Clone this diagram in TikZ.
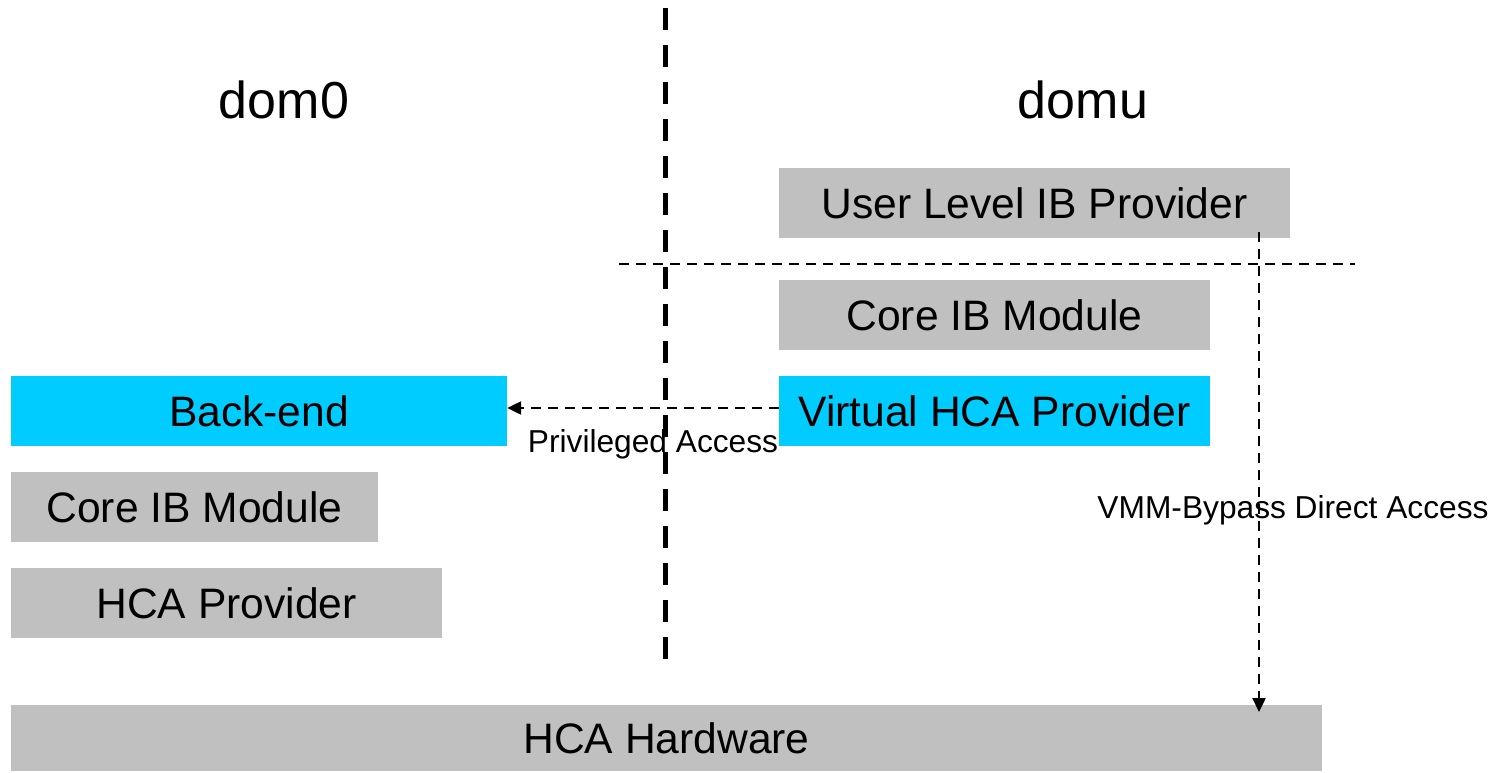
\documentclass[tikz,border=0pt]{standalone}
\usepackage{fontspec}
\setmainfont{Liberation Sans}
\usetikzlibrary{arrows.meta}
\definecolor{boxgray}{HTML}{C0C0C0}
\definecolor{boxcyan}{HTML}{00CCFF}
\tikzset{
  layer/.style={fill=boxgray, inner sep=0pt, font=\fontsize{42.6}{50}\selectfont},
  cyanlayer/.style={layer, fill=boxcyan},
  domlabel/.style={font=\fontsize{52}{60}\selectfont, inner sep=0pt},
  arrlabel/.style={font=\fontsize{31.7}{38}\selectfont, inner sep=0pt},
  conn/.style={draw, line width=2.3pt, dash pattern=on 10pt off 7pt, -{Triangle[length=14pt,width=13pt]}},
  divider/.style={draw, line width=5pt, dash pattern=on 22pt off 15pt},
  sep/.style={draw, line width=2.3pt, dash pattern=on 10pt off 7pt}
}
\begin{document}
\begin{tikzpicture}[x=1pt,y=-1pt]
\useasboundingbox (0,0) rectangle (1501,772);
% labels
\node[domlabel] (dom0) at (284,100) {dom0};
\node[domlabel] (domu) at (1083,100) {domu};
% divider lines
\coordinate (dvt) at (665,8);
\coordinate (dvb) at (665,663);
\draw[divider] (dvt) -- (dvb);
\coordinate (hsl) at (619,264);
\coordinate (hsr) at (1355,264);
\draw[sep] (hsl) -- (hsr);
% domu boxes
\node[layer, minimum width=511pt, minimum height=70pt] (ulib) at (1034.5,203) {User Level IB Provider};
\node[layer, minimum width=431pt, minimum height=70pt] (coreu) at (994.5,315) {Core IB Module};
\node[cyanlayer, minimum width=431pt, minimum height=70pt] (vhca) at (994.5,411) {Virtual HCA Provider};
% dom0 boxes
\node[cyanlayer, minimum width=496pt, minimum height=70pt] (backend) at (259,411) {Back-end};
\node[layer, minimum width=367pt, minimum height=70pt] (core0) at (194.5,507) {Core IB Module};
\node[layer, minimum width=431pt, minimum height=70pt] (hcap) at (226.5,603) {HCA Provider};
% hardware
\node[layer, minimum width=1311pt, minimum height=66pt] (hw) at (666.5,738) {HCA Hardware};
% connectors
\draw[conn] ([yshift=3pt]vhca.west) -- ([yshift=3pt]backend.east);
\node[arrlabel] (priv) at (653,444) {Privileged Access};
\coordinate (vs) at (1259,232);
\coordinate (ve) at (1259,712);
\draw[conn] (vs) -- (ve);
\node[arrlabel] (vmm) at (1293,510) {VMM-Bypass Direct Access};
\end{tikzpicture}
\end{document}
